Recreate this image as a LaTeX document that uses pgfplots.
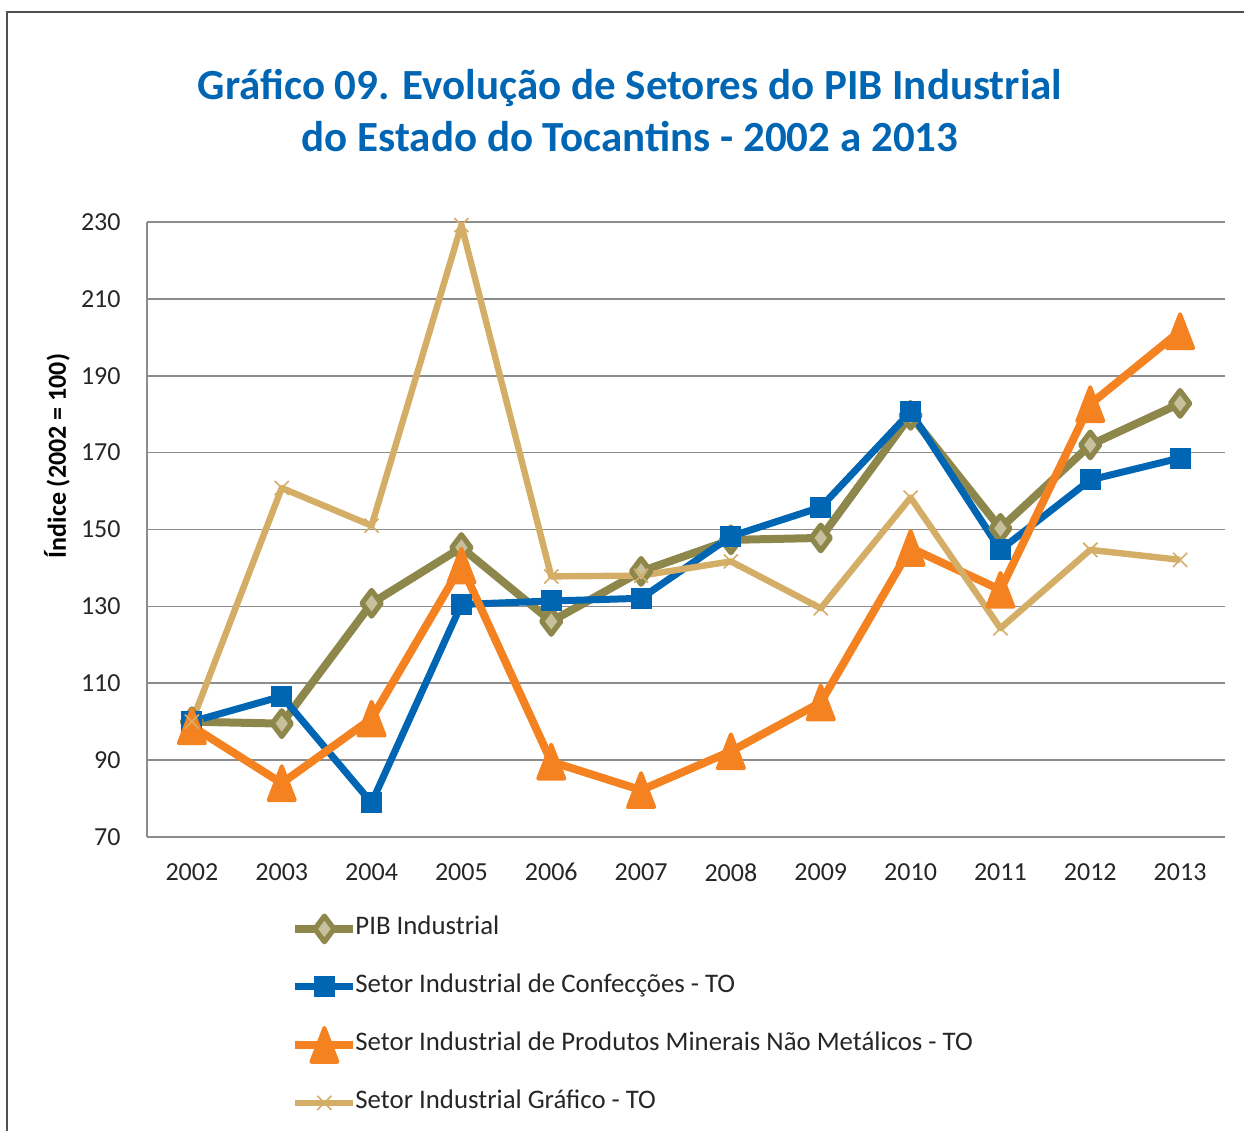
\documentclass[border=0pt]{standalone}
\usepackage{fontspec}
\setmainfont{Carlito}
\usepackage{pgfplots}
\pgfplotsset{compat=1.18}
\definecolor{olive}{HTML}{8E874B}
\definecolor{olivelight}{HTML}{C7C09C}
\definecolor{cblue}{HTML}{0066B3}
\definecolor{corange}{HTML}{F58220}
\definecolor{ctan}{HTML}{D4AD67}
\definecolor{gridc}{HTML}{8C8C8C}
\definecolor{framec}{HTML}{505050}
\begin{document}
\begin{tikzpicture}
\useasboundingbox (0,0) rectangle (622pt,565.5pt);
\draw[framec, line width=1.2pt] (3.5pt,0pt) -- (3.5pt,559.5pt) -- (625pt,559.5pt);
\node[anchor=base, font=\fontsize{21.5}{24}\selectfont\bfseries, text=cblue] at (315pt,515.5pt) {Gráfico 09. Evolução de Setores do PIB Industrial};
\node[anchor=base, font=\fontsize{21.5}{24}\selectfont\bfseries, text=cblue] at (315pt,489.5pt) {do Estado do Tocantins - 2002 a 2013};
\node[rotate=90, font=\fontsize{13}{15}\selectfont\bfseries] at (28.5pt,337.5pt) {Índice (2002 = 100)};
\begin{axis}[
  at={(73.5pt,147pt)}, anchor=south west,
  scale only axis, width=539pt, height=307.5pt,
  xmin=-0.5, xmax=11.5, ymin=70, ymax=230,
  xtick={0,...,11},
  xticklabels={2002,2003,2004,2005,2006,2007,2008,2009,2010,2011,2012,2013},
  ytick={70,90,...,230},
  /pgf/number format/assume math mode=true,
  tick label style={font=\fontsize{13}{15}\selectfont, text=black!85},
  x tick label style={inner sep=0pt, anchor=north, yshift=-13pt},
  y tick label style={inner sep=0pt, anchor=east, xshift=-13pt},
  major tick length=0pt,
  axis x line*=bottom, axis y line*=left,
  x axis line style={draw=gridc, line width=1.3pt, -},
  y axis line style={draw=gridc, line width=0.9pt, -},
  ymajorgrids, grid style={draw=gridc, line width=0.8pt},
  clip=false,
  legend image code/.code={%
    \pgfinterruptboundingbox
    \draw[mark repeat=2,mark phase=2,#1] plot coordinates {(0pt,0pt) (14.5pt,0pt) (29pt,0pt)};
    \endpgfinterruptboundingbox
    \path[draw=none, fill=none, use as bounding box] (0pt,-5pt) rectangle (29pt,5pt);},
  legend style={at={(0.1373,-0.1293)}, anchor=north west, draw=none, fill=none,
    inner sep=0pt, row sep=17pt, column sep=0pt, font=\fontsize{13.4}{15}\selectfont,
    nodes={inner sep=0pt, text height=9pt, text depth=3pt, text=black!85}},
  legend cell align=left,
]
\addplot[olive, line width=4pt, line join=round, mark=diamond*, mark size=6.4pt,
  mark options={fill=olivelight, draw=olive, line width=2.6pt, line join=round}]
  coordinates {(0,100) (1,99.5) (2,130.8) (3,145.3) (4,126.1) (5,139.1) (6,147.3) (7,147.8) (8,179.7) (9,150.3) (10,172) (11,182.8)};
\addlegendentry{\hspace{1pt}PIB Industrial}
\addplot[cblue, line width=3.5pt, line join=round, mark=square*, mark size=5pt,
  mark options={fill=cblue, draw=cblue, line width=0pt}]
  coordinates {(0,100) (1,106.6) (2,78.9) (3,130.5) (4,131.4) (5,132.1) (6,148.2) (7,155.8) (8,180.6) (9,144.7) (10,162.9) (11,168.6)};
\addlegendentry{\hspace{1pt}Setor Industrial de Confecções - TO}
\addplot[corange, line width=4pt, line join=round, mark=triangle*, mark size=7.5pt,
  mark options={fill=corange, draw=corange, line width=2pt, line join=round, yshift=-2.8pt, yscale=1.5}]
  coordinates {(0,98.8) (1,84) (2,100.8) (3,140.6) (4,89.6) (5,82.2) (6,92.3) (7,105) (8,145.2) (9,134.3) (10,182.6) (11,201.6)};
\addlegendentry{\hspace{1pt}Setor Industrial de Produtos Minerais Não Metálicos - TO}
\addplot[ctan, line width=3.2pt, line join=round, mark=x, mark size=5pt,
  mark options={draw=ctan, line width=0.8pt}]
  coordinates {(0,100) (1,160.8) (2,151) (3,229.2) (4,137.8) (5,138) (6,141.7) (7,129.5) (8,158.3) (9,124.3) (10,144.7) (11,142.1)};
\addlegendentry{\hspace{1pt}Setor Industrial Gráfico - TO}
\end{axis}
\end{tikzpicture}
\end{document}
